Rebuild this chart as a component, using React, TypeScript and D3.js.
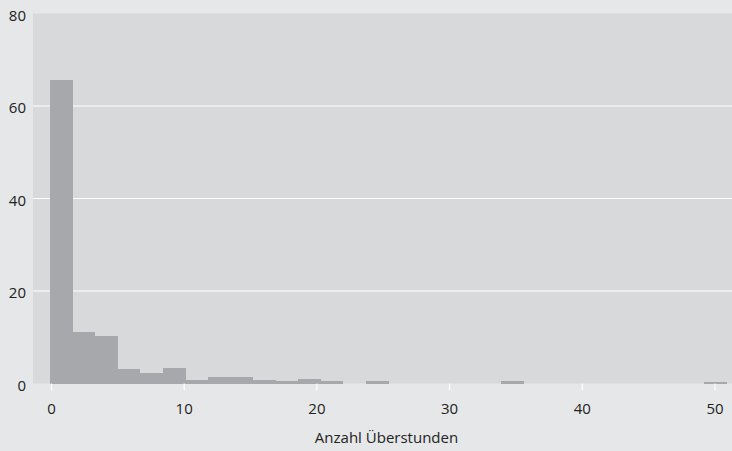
import React from "react";
import * as d3 from "d3";

const binStart = -0.1;
const binWidth = 1.7;
const counts = [65.6, 11.1, 10.3, 3.2, 2.3, 3.4, 0.8, 1.4, 1.4, 0.8, 0.55, 1.0, 0.55, 0, 0.55, 0, 0, 0, 0, 0, 0.55, 0, 0, 0, 0, 0, 0, 0, 0, 0.35];
const xTicks = [0, 10, 20, 30, 40, 50];
const yTicks = [0, 20, 40, 60, 80];
const gridTicks = [20, 40, 60];
const xLabel = "Anzahl Überstunden";

const W = 732;
const H = 451;
const panel = { left: 33, right: 732, top: 13.5, bottom: 383.5 };

export default function App() {
  const x = d3.scaleLinear().domain([0, 50]).range([51.5, 715]);
  const y = d3.scaleLinear().domain([0, 80]).range([panel.bottom, panel.top]);
  const font = "'Open Sans', 'DejaVu Sans', sans-serif";
  return (
    <svg width={W} height={H} style={{ position: "absolute", left: 0, top: 0, display: "block" }}>
      <rect x={0} y={0} width={W} height={H} fill="#e6e7e8" />
      <rect x={panel.left} y={panel.top} width={panel.right - panel.left} height={panel.bottom - panel.top} fill="#d8d9db" />
      {gridTicks.map((t) => (
        <line key={t} x1={panel.left} x2={panel.right} y1={y(t)} y2={y(t)} stroke="#ffffff" strokeWidth={1.2} />
      ))}
      {counts.map((c, i) => {
        if (c <= 0) return null;
        const x0 = Math.round(x(binStart + i * binWidth));
        const x1 = Math.round(x(binStart + (i + 1) * binWidth));
        return (
          <rect
            key={i}
            x={x0}
            y={y(c)}
            width={x1 - x0}
            height={y(0) - y(c)}
            fill="#a7a8ab"
            shapeRendering="crispEdges"
          />
        );
      })}
      {xTicks.map((t) => (
        <g key={t}>
          <line x1={x(t)} x2={x(t)} y1={panel.bottom} y2={panel.bottom + 7} stroke="#ffffff" strokeWidth={1.2} />
          <text x={x(t)} y={413.5} textAnchor="middle" fontFamily={font} fontSize={15} fill="#222">
            {t}
          </text>
        </g>
      ))}
      {yTicks.map((t) => (
        <text key={t} x={26} y={y(t) + 7} textAnchor="end" fontFamily={font} fontSize={15} fill="#222">
          {t}
        </text>
      ))}
      <text x={386.5} y={443} textAnchor="middle" fontFamily={font} fontSize={15} fill="#222">
        {xLabel}
      </text>
    </svg>
  );
}
